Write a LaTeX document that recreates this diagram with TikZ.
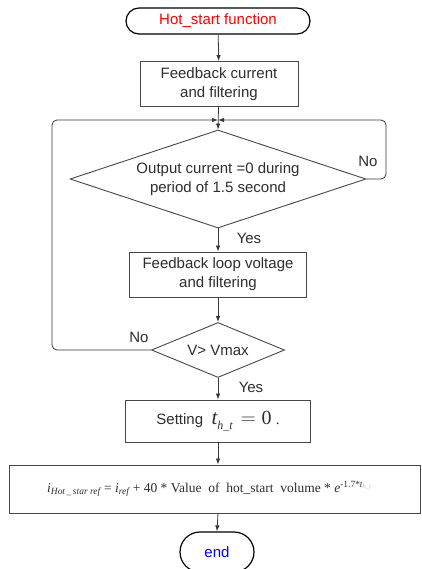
\documentclass[tikz,border=0pt]{standalone}
\usepackage{fontspec}
\setmainfont{Liberation Sans}
\newfontfamily\serifm{Liberation Serif}
\usetikzlibrary{shapes.geometric,shapes.misc,arrows.meta}
\begin{document}
\begin{tikzpicture}[x=1pt,y=-1pt,
  font=\fontsize{15}{19}\selectfont,
  every node/.style={text=black!82},
  line/.style={draw=black!78, line width=0.8pt},
  arr/.style={line, -{Latex[length=6pt,width=4.5pt]}},
  term/.style={rounded rectangle, draw=black, line width=1.2pt, inner sep=0pt},
  proc/.style={rectangle, draw=black!72, line width=0.9pt, inner sep=0pt, align=center},
  dec/.style={diamond, draw=black!72, line width=0.9pt, inner sep=0pt, align=center},
  lbl/.style={inner sep=0pt}]
\useasboundingbox (0,0) rectangle (422,569);
\fill[white] (0,0) rectangle (422,569);

\node[term, minimum width=184pt, minimum height=26pt, text=red] (start) at (218,21) {Hot\_start function};
\node[proc, minimum width=158pt, minimum height=45pt] (box1) at (219,84) {Feedback current\\and filtering};
\coordinate (j) at (218,120);
\node[dec, shape aspect=3.02, minimum width=296pt, minimum height=98pt] (dia1) at (218,179) {Output current =0 during\\period of 1.5 second};
\node[proc, minimum width=177pt, minimum height=45pt] (box2) at (218,274.5) {Feedback loop voltage\\and filtering};
\node[dec, shape aspect=2.42, minimum width=133pt, minimum height=55pt] (dia2) at (218,350) {V> Vmax};
\node[proc, minimum width=185pt, minimum height=42pt] (box3) at (218,421)
  {Setting\ \ {\serifm\fontsize{21}{21}\selectfont\itshape t}\raisebox{-5pt}{\serifm\fontsize{12}{12}\selectfont\itshape h\_t}\,{\serifm\fontsize{20}{20}\selectfont ${}={}$0}\ {\serifm .}};
\node[proc, minimum width=411pt, minimum height=48pt] (box4) at (214.5,489) {};
\node[lbl, anchor=west, font=\serifm\fontsize{13.5}{16}\selectfont] (ftext) at (47,489)
  {{\itshape i}\textsubscript{\itshape Hot\,\_\,star ref} = {\itshape i}\textsubscript{\itshape ref} + 40 * Value\ \ of\ \ hot\_start\ \ volume * {\itshape e}\textsuperscript{-1.7*{\itshape t}\textsubscript{\color{black!25}\itshape h\_t}}};
\node[term, minimum width=74pt, minimum height=40pt, text=blue] (end) at (217,552) {end};

\draw[arr] (start) -- (box1);
\draw[arr] (box1) -- (dia1.north);
\draw[arr] (dia1.south) -- (box2.north);
\draw[arr] (box2) -- (dia2.north);
\draw[arr] (dia2.south) -- (box3.north);
\draw[arr] (box3.south) -- (box3.south |- box4.north);
\draw[arr] (box3.south |- box4.south) -- (end.north);

\draw[arr, rounded corners=5pt] (dia1.east) -- (386,179) -- (386,120) -- (j);
\draw[arr, rounded corners=5pt] (dia2.west) -- (52,350) -- (52,120) -- (j);

\node[lbl] (no1) at (368,161) {No};
\node[lbl] (yes1) at (249,238) {Yes};
\node[lbl] (no2) at (139,337) {No};
\node[lbl] (yes2) at (251,387) {Yes};
\end{tikzpicture}
\end{document}
